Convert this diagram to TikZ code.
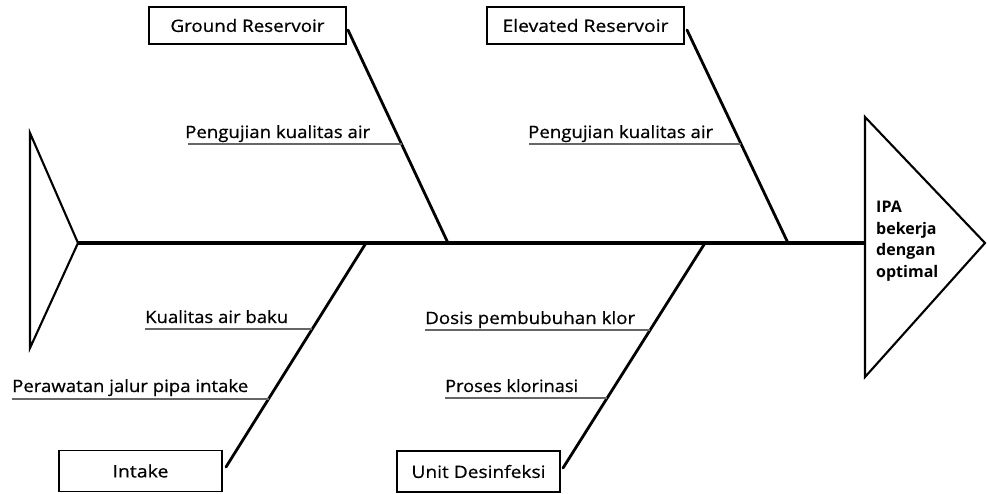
\documentclass[tikz,border=0pt]{standalone}
\usepackage{fontspec}
\usepackage{graphicx}
\setmainfont{Open Sans}
\newfontfamily\labelfont[FakeBold=0.6]{Open Sans}
% set a label to a given width while keeping its natural height
\newcommand{\fitw}[2]{\resizebox{#1}{\height}{#2}}
\begin{document}
\begin{tikzpicture}[x=1pt,y=-1pt,
  catbox/.style={draw=black,line width=1.8pt,inner sep=0pt,minimum height=37pt,
    font=\labelfont\fontsize{17}{20}\selectfont},
  cause/.style={anchor=base west,inner sep=0pt,font=\labelfont\fontsize{17}{20}\selectfont},
  bone/.style={line width=2.8pt,line cap=round},
  spine/.style={line width=3.6pt},
  under/.style={line width=1.3pt,draw=black!60},
  outline/.style={line width=2.1pt,line join=miter}]
\useasboundingbox (0,0) rectangle (987,493);

% tail and head of the fish
\draw[outline] (30,133) -- (78,243) -- (30,348) -- cycle;
\coordinate (tail) at (78,243);
\coordinate (headbase) at (865,243);
\draw[outline] (865,117) -- (985,243) -- (865,377) -- cycle;
\node[anchor=north west,align=left,inner sep=0pt,
      font=\bfseries\fontsize{16}{21.5}\selectfont] (effect) at (876,201)
  {IPA\\bekerja\\dengan\\optimal};

% spine
\draw[spine] (tail) -- (headbase);

% category boxes
\node[catbox,minimum width=197pt] (ground) at (247.5,25.5) {\fitw{154pt}{Ground Reservoir}};
\node[catbox,minimum width=197pt] (elev) at (585.5,25.5) {\fitw{166pt}{Elevated Reservoir}};
\node[catbox,minimum width=163pt,minimum height=41pt] (intake) at (140.5,471) {\fitw{56pt}{Intake}};
\node[catbox,minimum width=163pt,minimum height=41pt] (unit) at (478.5,471.5) {\fitw{134pt}{Unit Desinfeksi}};

% bone end points
\coordinate (g0) at (348,30);   \coordinate (g1) at (448,243);
\coordinate (e0) at (687,30);   \coordinate (e1) at (788,243);
\coordinate (i0) at (226,467);  \coordinate (i1) at (366,243);
\coordinate (u0) at (563,468);  \coordinate (u1) at (705,243);

\draw[bone] (g0) -- (g1);
\draw[bone] (e0) -- (e1);
\draw[bone] (i0) -- (i1);
\draw[bone] (u0) -- (u1);

% causes on each bone
\node[cause] (gc) at (185,138) {\fitw{185pt}{Pengujian kualitas air}};
\draw[under] (188,144) -- (402,144);

\node[cause] (ec) at (528,138) {\fitw{185pt}{Pengujian kualitas air}};
\draw[under] (529,144) -- (741,144);

\node[cause] (ic1) at (145,323) {\fitw{143pt}{Kualitas air baku}};
\draw[under] (145,329) -- (312,329);
\node[cause] (ic2) at (12,392) {\fitw{236pt}{Perawatan jalur pipa intake}};
\draw[under] (12,399) -- (269,399);

\node[cause] (uc1) at (425,324) {\fitw{210pt}{Dosis pembubuhan klor}};
\draw[under] (425,330) -- (650,330);
\node[cause] (uc2) at (445,392) {\fitw{133pt}{Proses klorinasi}};
\draw[under] (445,398) -- (607,398);
\end{tikzpicture}
\end{document}
